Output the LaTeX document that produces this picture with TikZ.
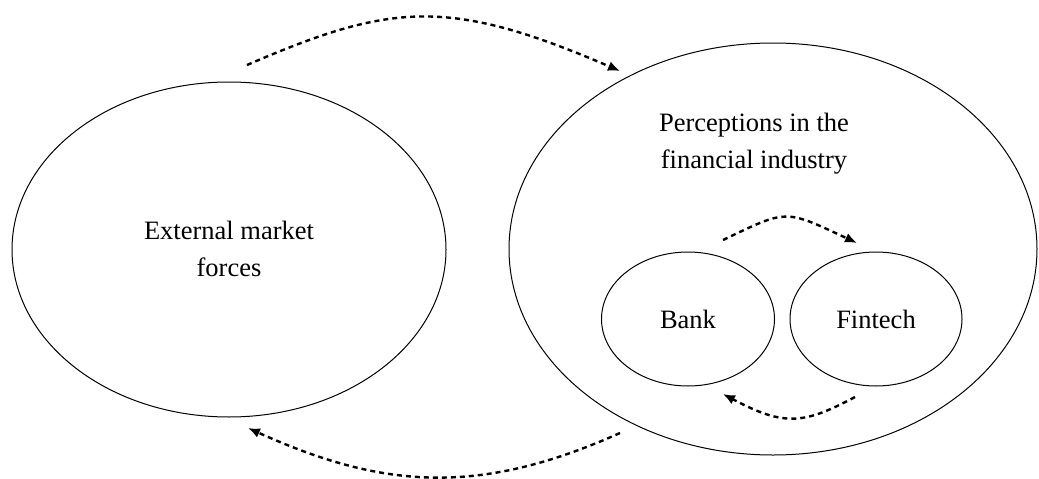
\documentclass[tikz,border=0pt]{standalone}
\usepackage{fontspec}
\setmainfont{Liberation Serif}
\usepackage{tikz}
\usetikzlibrary{arrows.meta}
\usetikzlibrary{shapes.geometric}

\tikzset{
  oval/.style={draw, ellipse, line width=1pt, inner sep=0pt},
  lbl/.style={align=center, font=\fontsize{26.5}{37}\selectfont},
  flow/.style={line width=2.4pt, dash pattern=on 5pt off 4pt, -{Latex[length=12pt,width=10pt]}}
}

\begin{document}
\begin{tikzpicture} [x=1pt, y=-1pt]
\useasboundingbox (0,0) rectangle (1039,479);

\node[oval, minimum width=434pt, minimum height=335pt] (ext) at (229,249.5) {};
\node[oval, minimum width=528pt, minimum height=412pt] (perc) at (773,249) {};
\node[oval, minimum width=173pt, minimum height=134pt] (bank) at (688,319) {};
\node[oval, minimum width=172pt, minimum height=134pt] (fintech) at (876,319) {};

\node[lbl] (extlbl) at (229,249) {External market\\forces};
\node[lbl] (perclbl) at (754,144) {Perceptions in the\\financial industry};
\node[lbl] (banklbl) at (bank) {Bank};
\node[lbl] (fintechlbl) at (fintech) {Fintech};

% outer loop
\coordinate (ext out) at (247,65);
\coordinate (perc in) at (620,71);
\coordinate (perc out) at (620,433);
\coordinate (ext in) at (248,428);
\draw[flow] (ext out) .. controls (391,3) and (448,-3) .. (perc in);
\draw[flow] (perc out) .. controls (477,497) and (381,488) .. (ext in);

% inner loop
\coordinate (bank out) at (723,240);
\coordinate (fintech in) at (857,243);
\coordinate (fintech out) at (855,397);
\coordinate (bank in) at (723,394);
\draw[flow] (bank out) .. controls (788,209) and (784,209) .. (fintech in);
\draw[flow] (fintech out) .. controls (804,424) and (785,427) .. (bank in);

\end{tikzpicture}
\end{document}
